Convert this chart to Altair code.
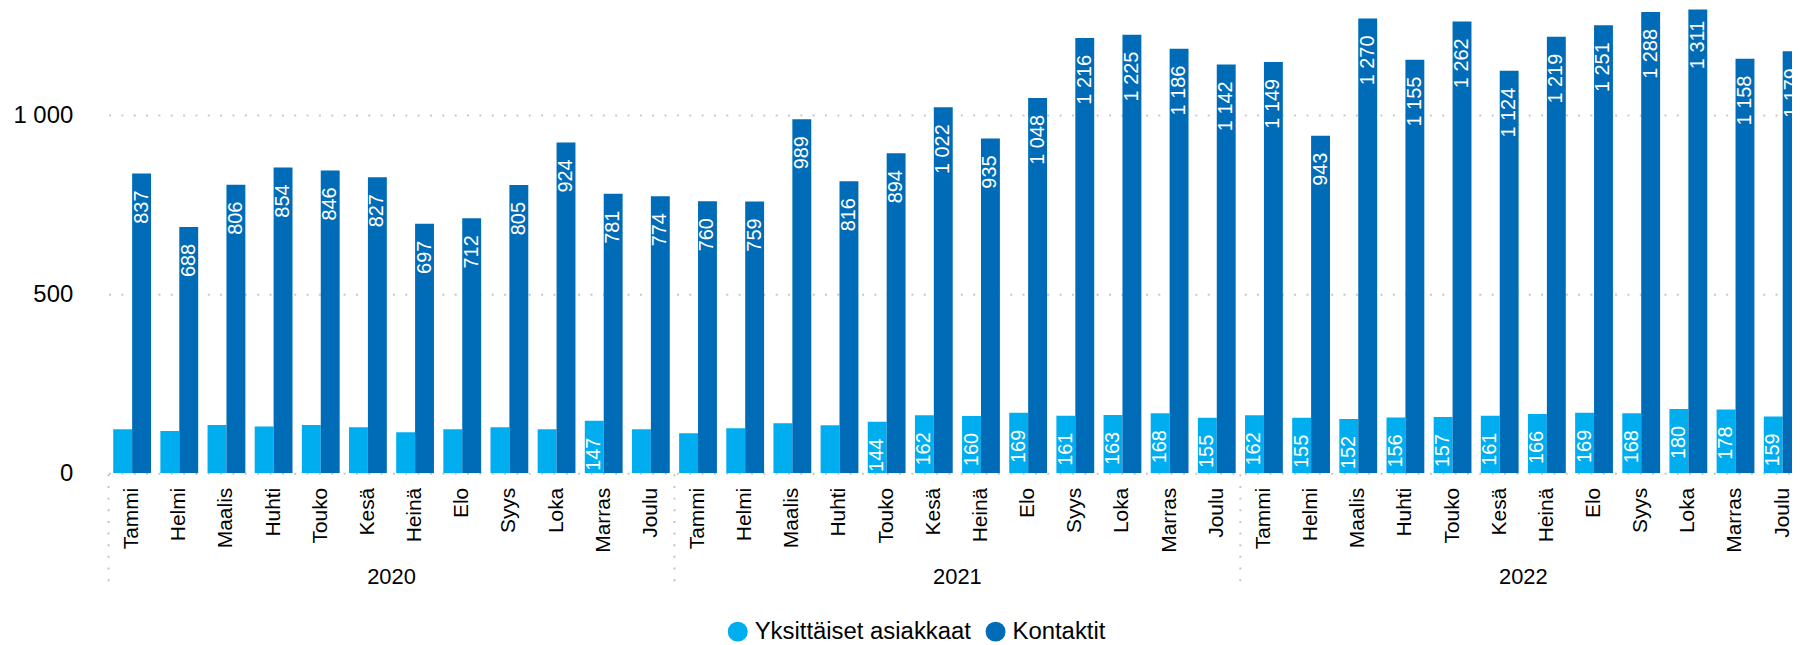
import json
import altair as alt
import pandas as pd

# ---------------- data ----------------
years = ["2020", "2021", "2022"]
months = ["Tammi", "Helmi", "Maalis", "Huhti", "Touko", "Kesä",
          "Heinä", "Elo", "Syys", "Loka", "Marras", "Joulu"]
series = ["Yksittäiset asiakkaat", "Kontaktit"]
colors = ["#00AEEF", "#006CB7"]

asiakkaat_2020 = [123, 118, 135, 131, 135, 129, 115, 123, 129, 123, 147, 123]
asiakkaat_2021 = [112, 126, 140, 134, 144, 162, 160, 169, 161, 163, 168, 155]
asiakkaat_2022 = [162, 155, 152, 156, 157, 161, 166, 169, 168, 180, 178, 159]

kontaktit_2020 = [837, 688, 806, 854, 846, 827, 697, 712, 805, 924, 781, 774]
kontaktit_2021 = [760, 759, 989, 816, 894, 1022, 935, 1048, 1216, 1225, 1186, 1142]
kontaktit_2022 = [1149, 943, 1270, 1155, 1262, 1124, 1219, 1251, 1288, 1311, 1158, 1179]

y_ticks = [0, 500, 1000]
label_min = 144  # smaller bars have no data label

# ---------------- tables ----------------
asiakkaat = asiakkaat_2020 + asiakkaat_2021 + asiakkaat_2022
kontaktit = kontaktit_2020 + kontaktit_2021 + kontaktit_2022

rows = []
for i in range(len(years) * len(months)):
    for s, vals in zip(series, [asiakkaat, kontaktit]):
        v = vals[i]
        rows.append({
            "idx": i,
            "series": s,
            "value": v,
            "label": f"{v:,}".replace(",", " "),
            "show": v >= label_min,
        })
df = pd.DataFrame(rows)

sep_df = pd.DataFrame({"idx": [k * len(months) for k in range(len(years))]})
year_df = pd.DataFrame({"idx": [k * len(months) + len(months) // 2 for k in range(len(years))],
                        "year": years})

FONT = "Liberation Sans"
W, H = 1705, 466
STEP = 47.37
X0 = 14

month_expr = json.dumps(months) + "[datum.value % 12]"


def xenc(band_pos=None):
    kw = {}
    if band_pos is not None:
        kw["bandPosition"] = band_pos
    return alt.X(
        "idx:O",
        scale=alt.Scale(type="band", range=[X0, X0 + 36 * STEP], paddingInner=0, paddingOuter=0),
        axis=alt.Axis(title=None, labelExpr=month_expr, labelAngle=270, labelFontSize=21,
                      labelPadding=14, ticks=False, domain=False, grid=False,
                      labelColor="#000000", labelFont=FONT),
        **kw,
    )


xoff = alt.XOffset("series:N", sort=series,
                   scale=alt.Scale(domain=series, paddingOuter=0.247, paddingInner=0))

yenc = alt.Y(
    "value:Q",
    scale=alt.Scale(domain=[0, 1295.5], nice=False),
    axis=alt.Axis(values=y_ticks, title=None,
                  labelExpr="replace(format(datum.value, ','), ',', ' ')",
                  labelFontSize=24, labelPadding=22, ticks=False, domain=False,
                  labelColor="#000000", labelFont=FONT,
                  gridDash=[2, 10.4], gridWidth=2, gridColor="#c8c8c8"),
)

base = alt.Chart(df)

bars = base.mark_bar(clip=True).encode(
    x=xenc(),
    xOffset=xoff,
    y=yenc,
    color=alt.Color(
        "series:N",
        scale=alt.Scale(domain=series, range=colors),
        legend=alt.Legend(orient="none", legendX=634, legendY=613, direction="horizontal",
                          title=None, symbolType="circle", symbolSize=400,
                          symbolStrokeWidth=0, symbolOpacity=1, labelFontSize=24,
                          labelFont=FONT, labelColor="#000000", labelOffset=5,
                          labelLimit=0, columnPadding=12, padding=0),
    ),
)

labels = base.transform_filter("datum.show").mark_text(
    angle=270, align="right", baseline="middle", dx=-17, color="white",
    fontSize=20, font=FONT, clip=True,
).encode(
    x=xenc(),
    xOffset=xoff,
    y=yenc,
    text="label:N",
)

seps = alt.Chart(sep_df).mark_rule(strokeDash=[2, 9.7], strokeWidth=2, color="#c4c4c4").encode(
    x=xenc(0),
    y=alt.value(H + 1),
    y2=alt.value(H + 116),
)

year_text = alt.Chart(year_df).mark_text(fontSize=22, font=FONT, color="#000000",
                                         align="center", baseline="middle").encode(
    x=xenc(0),
    y=alt.value(H + 104),
    text="year:N",
)

chart = alt.layer(bars, labels, seps, year_text).properties(
    width=W,
    height=H,
    autosize=alt.AutoSizeParams(type="none"),
    padding={"left": 87, "top": 0, "right": 0, "bottom": 171},
).configure(font=FONT).configure_view(stroke=None)

chart.save("out.html", embed_options={"renderer": "svg", "actions": False})
